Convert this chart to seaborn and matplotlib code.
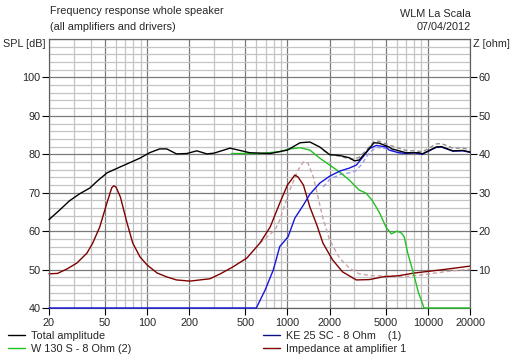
import numpy as np
import pandas as pd
import matplotlib
matplotlib.use("Agg")
import matplotlib.pyplot as plt
from matplotlib.lines import Line2D
import seaborn as sns

# ---------------- data ----------------
total_f = [20, 24, 28, 33, 39, 45, 52, 67, 89, 104, 123, 138, 162, 192, 226, 267, 300, 390, 540, 754,
           1000, 1230, 1445, 1700, 2000, 2350, 2760, 3000, 3240, 3630, 4140, 4500, 5300, 5560, 7000,
           8700, 9140, 11500, 12500, 15100, 17800, 20000]
total_db = [63.0, 65.6, 67.9, 69.7, 71.2, 73.3, 75.2, 77.0, 79.0, 80.4, 81.4, 81.4, 80.1, 80.2, 80.9, 80.1,
            80.3, 81.6, 80.4, 80.2, 81.1, 83.0, 83.2, 81.9, 79.9, 79.7, 79.1, 78.3, 78.5, 80.5, 83.0, 82.9,
            81.9, 81.4, 80.4, 80.4, 80.1, 81.9, 82.0, 80.9, 81.0, 80.6]

woofer_f = [400, 637, 882, 1040, 1232, 1445, 1700, 2000, 2350, 2760, 3240, 3630, 4000, 4500, 5050, 5500,
            6050, 6500, 6800, 7200, 7900, 8600, 9000, 9400, 20000]
woofer_db = [80.2, 80.2, 80.7, 81.4, 81.7, 81.1, 79.0, 77.2, 75.4, 73.3, 70.7, 69.9, 68.1, 65.0, 61.0, 59.3,
             60.0, 59.5, 58.5, 54.3, 49.1, 43.9, 42.0, 40.0, 40.0]

tweeter_f = [20, 600, 694, 793, 882, 1010, 1130, 1300, 1445, 1700, 2000, 2350, 2760, 3100, 3400, 3850, 4300,
             5050, 5300, 6200, 7000, 8000, 9140, 11500, 12500, 15100, 17800, 20000]
tweeter_db = [40.0, 40.0, 44.7, 49.9, 56.0, 58.5, 63.4, 66.8, 69.6, 72.5, 74.3, 75.6, 76.4, 77.2, 79.0, 81.5,
              82.3, 81.9, 81.1, 80.4, 80.2, 80.4, 80.0, 81.8, 81.9, 80.8, 80.9, 80.5]

imp_f = [20, 23, 27, 31.6, 37.3, 41, 46, 52, 56, 58, 60, 64.5, 72, 79, 89, 100, 118, 138, 162, 202, 237, 280,
         333, 409, 514, 637, 754, 882, 1000, 1130, 1190, 1300, 1445, 1620, 1790, 2100, 2470, 3100, 3850,
         4780, 6200, 8000, 13600, 20000]
imp_ohm = [8.9, 9.0, 10.2, 11.7, 14.3, 16.9, 21.1, 27.6, 31.3, 31.8, 31.5, 28.9, 22.1, 16.9, 13.3, 11.2, 9.1,
           8.1, 7.3, 7.0, 7.3, 7.6, 8.9, 10.7, 13.0, 16.9, 21.1, 27.3, 32.0, 34.6, 34.1, 32.0, 26.3, 21.6,
           16.9, 12.5, 9.4, 7.3, 7.4, 8.1, 8.4, 9.1, 10.1, 10.9]

# dashed reference overlays (not in legend)
imp_ref_f = [637, 815, 882, 1040, 1190, 1300, 1400, 1530, 1650, 1790, 2000, 2350, 2760, 3240, 4000, 5300,
             6500, 9000, 13600, 20000]
imp_ref_ohm = [16.9, 20.3, 22.9, 30.7, 35.9, 38.0, 37.7, 34.1, 28.9, 23.4, 17.7, 13.0, 10.4, 8.9, 8.4, 8.4,
               8.1, 8.6, 9.5, 10.1]
total_ref_f = [1800, 2000, 2350, 2760, 3000, 3240, 3630, 4140, 4500, 5300, 7000, 8700, 9140, 11500, 12500,
               15100, 17800, 20000]
total_ref_db = [81.0, 80.0, 79.5, 78.8, 78.8, 79.2, 81.0, 83.3, 83.4, 82.4, 81.0, 80.8, 80.6, 82.7, 82.8,
                81.6, 81.6, 81.2]
tw_ref_f = [1800, 2000, 2400, 2800, 3100, 3400, 3850, 4300, 5000, 6000, 7000]
tw_ref_db = [71.5, 73.5, 74.8, 75.2, 75.8, 77.5, 80.5, 81.8, 81.5, 80.6, 80.2]

x_ticks = [20, 50, 100, 200, 500, 1000, 2000, 5000, 10000, 20000]
x_minor = [30, 40, 60, 70, 80, 90, 300, 400, 600, 700, 800, 900, 3000, 4000, 6000, 7000, 8000, 9000]
y_ticks = [40, 50, 60, 70, 80, 90, 100]
z_ticks = [10, 20, 30, 40, 50, 60]

labels = ["Total amplitude", "W 130 S - 8 Ohm (2)", "KE 25 SC - 8 Ohm    (1)", "Impedance at amplifier 1"]

# ---------------- style ----------------
sns.set_style("white")
plt.rcParams['font.family'] = ['Liberation Sans', 'DejaVu Sans']
FS = 7.8
plt.rcParams['font.size'] = FS

C_BLACK = "#000000"
C_GREEN = "#22c022"
C_BLUE = "#1515e0"
C_RED = "#800000"

W, H = 516, 361
fig = plt.figure(figsize=(W / 100, H / 100), dpi=100)
L, R, B, T = 49, 470, 308, 39
ax = fig.add_axes([L / W, 1 - B / H, (R - L) / W, (B - T) / H])
ax2 = ax.twinx()

ax.set_xscale('log')
ax.set_xlim(20, 20000)
ax.set_ylim(40, 110)
ax2.set_ylim(0, 70)

lw = 1.0
def plot(axis, f, v, color, ls='-', z=3):
    df = pd.DataFrame({"f": f, "v": v})
    sns.lineplot(data=df, x="f", y="v", ax=axis, color=color, lw=lw, linestyle=ls,
                 estimator=None, sort=False, legend=False)
    ln = axis.lines[-1]
    ln.set_zorder(z)
    ln.set_clip_on(False)

plot(ax, tw_ref_f, tw_ref_db, "#9a9ae8", ls=(0, (3, 2)), z=3)
plot(ax, total_ref_f, total_ref_db, "#909090", ls=(0, (3, 2)), z=3)
plot(ax, woofer_f, woofer_db, C_GREEN, z=4)
plot(ax, tweeter_f, tweeter_db, C_BLUE, z=5)
plot(ax, total_f, total_db, C_BLACK, z=6)
plot(ax2, imp_ref_f, imp_ref_ohm, "#c8a4a4", ls=(0, (3, 2)), z=3)
plot(ax2, imp_f, imp_ohm, C_RED, z=4)
# impedance axis underneath the SPL axis; it carries the grid
ax.set_zorder(ax2.get_zorder() + 1)
ax.patch.set_visible(False)
ax2.patch.set_visible(True)
ax2.patch.set_facecolor("white")

# ticks on SPL axis
ax.set_xticks(x_ticks)
ax.set_xticklabels([str(t) for t in x_ticks])
ax.set_xticks(x_minor, minor=True)
ax.set_yticks(list(range(40, 111, 10)))
ax.set_yticklabels([str(t) for t in y_ticks] + [""])
ax.set_yticks(list(range(40, 111, 2)), minor=True)
ax.grid(False)
ax.tick_params(which='minor', length=0)
ax.tick_params(which='major', direction='out', length=5, width=0.8, color='black',
               labelsize=FS, pad=2, left=True, bottom=True)
ax.set_xlabel("")
ax.set_ylabel("")
ax.yaxis.set_tick_params(pad=1)

# impedance axis: ticks on the right + grid
ax2.set_yticks(list(range(0, 71, 10)))
ax2.set_yticklabels([""] + [str(t) for t in z_ticks] + [""])
ax2.set_yticks(list(range(0, 71, 2)), minor=True)
ax2.tick_params(axis='y', which='major', direction='out', length=5, width=0.8, color='black',
                labelsize=FS, pad=1, right=True)
ax2.tick_params(axis='y', which='minor', length=0)
ax2.xaxis.set_visible(True)
ax2.tick_params(axis='x', which='both', length=0, labelbottom=False, labeltop=False)
ax2.set_ylabel("")
ax2.set_xlabel("")
ax2.grid(which='major', color="#7a7a7a", lw=0.9)
ax2.grid(which='minor', color="#c4c4c4", lw=0.9)
ax2.set_axisbelow(True)

for a in (ax, ax2):
    for s in a.spines.values():
        s.set_color("#606060")
        s.set_linewidth(0.8)
        s.set_zorder(2.5)
ax.yaxis.get_major_ticks()[-1].tick1line.set_visible(False)
ax2.yaxis.get_major_ticks()[-1].tick2line.set_visible(False)
ax2.yaxis.get_major_ticks()[0].tick2line.set_visible(False)

# texts
def px(x, y):
    return x / W, 1 - y / H
fig.text(*px(50, 11), "Frequency response whole speaker", fontsize=FS, va='center', ha='left')
fig.text(*px(50, 27), "(all amplifiers and drivers)", fontsize=FS, va='center', ha='left')
fig.text(*px(471, 14), "WLM La Scala", fontsize=FS, va='center', ha='right')
fig.text(*px(471, 27), "07/04/2012", fontsize=FS, va='center', ha='right')
fig.text(*px(3, 44), "SPL [dB]", fontsize=FS, va='center', ha='left')
fig.text(*px(473, 44), "Z [ohm]", fontsize=FS, va='center', ha='left')

# legends
def handles(cols):
    return [Line2D([0], [0], color=c, lw=1) for c in cols]
common = dict(loc='upper left', frameon=False, fontsize=FS, handlelength=1.6,
              handletextpad=0.55, labelspacing=0.25, borderpad=0, borderaxespad=0)
leg1 = fig.legend(handles([C_BLACK, C_GREEN]), labels[:2], bbox_to_anchor=px(8, 331), **common)
leg2 = fig.legend(handles(["#101080", C_RED]), labels[2:], bbox_to_anchor=px(263, 331), **common)

fig.savefig("out.png", dpi=100)
